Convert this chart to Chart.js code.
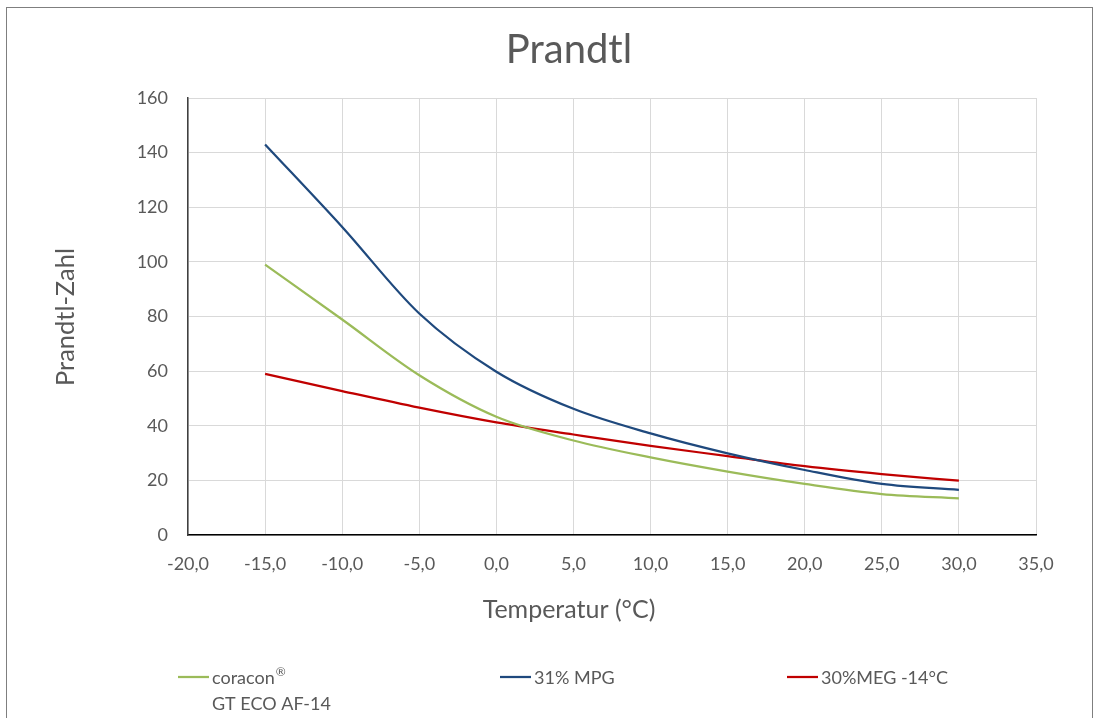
<!DOCTYPE html>
<html>
<head>
<meta charset="utf-8">
<script src="https://cdn.jsdelivr.net/npm/chart.js@4.4.1/dist/chart.umd.min.js"></script>
<style>
  html, body { margin: 0; padding: 0; background: #fff; overflow: hidden; }
  #wrap { position: relative; width: 1103px; height: 718px; }
  #frame { position: absolute; left: 6px; top: 7px; width: 1087px; height: 730px; border: 1px solid #7f7f7f; box-sizing: border-box; pointer-events: none; }
  canvas { position: absolute; left: 0; top: 0; }
</style>
</head>
<body>
<div id="wrap">
  <canvas id="c" width="1103" height="718"></canvas>
  <div id="frame"></div>
</div>
<script>
// ---- data ----
const temperatures = [-15, -10, -5, 0, 5, 10, 15, 20, 25, 30];
const coraconValues = [99, 78.9, 58.5, 43.3, 34.6, 28.4, 23.2, 18.7, 15.0, 13.4];
const mpgValues = [143, 112.8, 81.1, 59.8, 46.2, 37.2, 29.9, 23.8, 18.7, 16.5];
const megValues = [59, 52.7, 46.6, 41.2, 36.8, 32.6, 28.9, 25.2, 22.3, 19.9];
const seriesLabels = [["coracon\u00AE", "GT ECO AF-14"], ["31% MPG"], ["30%MEG -14\u00B0C"]];
const seriesColors = ["#9bbb59", "#1f497d", "#c00000"];
const chartTitle = "Prandtl";
const xTitle = "Temperatur (\u00B0C)";
const yTitle = "Prandtl-Zahl";
const xMin = -20, xMax = 35, xStep = 5;
const yMin = 0, yMax = 160, yStep = 20;

const FONT = "Lato, 'Open Sans', sans-serif";
const TEXT = "#595959";

function pts(vals) { return temperatures.map((t, i) => ({ x: t, y: vals[i] })); }

// draws text, rendering the ® sign as a small superscript
function drawLegendText(ctx, str, x, y) {
  const parts = str.split('\u00AE');
  let cx = x;
  parts.forEach((p, k) => {
    ctx.font = "18px " + FONT;
    ctx.fillText(p, cx, y);
    cx += ctx.measureText(p).width;
    if (k < parts.length - 1) {
      ctx.font = "12px " + FONT;
      ctx.fillText('\u00AE', cx + 1, y - 6);
      cx += ctx.measureText('\u00AE').width + 1;
    }
  });
}

const textPlugin = {
  id: 'texts',
  afterDraw(chart) {
    const ctx = chart.ctx;
    ctx.save();
    ctx.fillStyle = TEXT;
    // title
    ctx.font = "40px " + FONT;
    ctx.textAlign = "center";
    ctx.textBaseline = "middle";
    ctx.fillText(chartTitle, 569, 50);
    // x title
    ctx.font = "25px " + FONT;
    ctx.fillText(xTitle, 569, 610);
    // y title
    ctx.save();
    ctx.translate(66, 317);
    ctx.rotate(-Math.PI / 2);
    ctx.font = "25.5px " + FONT;
    ctx.fillText(yTitle, 0, 0);
    ctx.restore();
    // legend
    const legendX = [178, 500, 787];
    ctx.textAlign = "left";
    chart.data.datasets.forEach((ds, i) => {
      const x = legendX[i];
      ctx.strokeStyle = ds.borderColor;
      ctx.lineWidth = 2.25;
      ctx.beginPath();
      ctx.moveTo(x, 677);
      ctx.lineTo(x + 31, 677);
      ctx.stroke();
      ctx.fillStyle = TEXT;
      seriesLabels[i].forEach((line, j) => drawLegendText(ctx, line, x + 34, 678 + j * 26));
    });
    ctx.restore();
  }
};

new Chart(document.getElementById('c'), {
  type: 'line',
  data: {
    datasets: seriesLabels.map((lab, i) => ({
      label: lab.join(' '),
      data: pts([coraconValues, mpgValues, megValues][i]),
      borderColor: seriesColors[i],
      backgroundColor: seriesColors[i],
      borderWidth: 2.25,
      pointRadius: 0,
      cubicInterpolationMode: 'monotone',
      fill: false
    }))
  },
  options: {
    responsive: false,
    animation: false,
    devicePixelRatio: 1,
    layout: { padding: { left: 0, top: 98, right: 67, bottom: 0 } },
    plugins: { legend: { display: false }, title: { display: false }, tooltip: { enabled: false } },
    scales: {
      x: {
        type: 'linear', min: xMin, max: xMax,
        afterFit(s) { s.height = 183; },
        ticks: {
          stepSize: xStep, padding: 18, color: TEXT,
          font: { family: FONT, size: 18 },
          callback: v => v.toFixed(1).replace('.', ',')
        },
        grid: { color: '#d9d9d9', lineWidth: 1, drawTicks: false },
        border: { color: '#000000', width: 1.5 }
      },
      y: {
        min: yMin, max: yMax,
        afterFit(s) { s.width = 188; },
        ticks: {
          stepSize: yStep, padding: 20, color: TEXT,
          font: { family: FONT, size: 18 }
        },
        grid: { color: '#d9d9d9', lineWidth: 1, drawTicks: false },
        border: { color: '#404040', width: 1.5 }
      }
    }
  },
  plugins: [textPlugin]
});
</script>
</body>
</html>
